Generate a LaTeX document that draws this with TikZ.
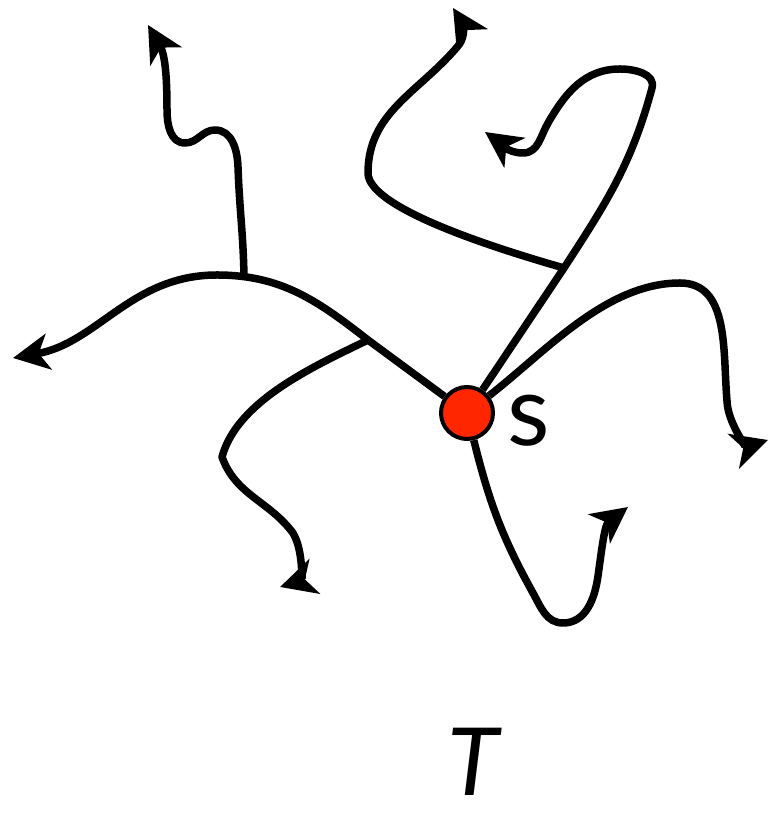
\documentclass[tikz,border=0pt]{standalone}
\usepackage{fontspec}
\setmainfont{Lato}
\usetikzlibrary{arrows.meta}
\usetikzlibrary{positioning}
\definecolor{dotred}{RGB}{255,38,0}

\begin{document}
\begin{tikzpicture}[x=1pt,y=1pt,
  branch/.style={line width=7.5pt,line join=round},
  tip/.style={-{Stealth[length=36pt,width=36pt,inset=10pt]}},
  dot/.style={circle,draw,line width=4pt,fill=dotred,minimum size=52pt,inner sep=0pt}]
  \useasboundingbox (0,0) rectangle (769,816);
  \node (s) [dot] at (467,403) {};
  \node (slabel) [right=12pt of s,yshift=-8pt,inner sep=0pt,font=\fontsize{98}{98}\selectfont] {s};
  \node (T) [anchor=base,inner sep=0pt,font=\fontsize{94}{94}\selectfont\itshape] at (473,20) {T};
  % junctions
  \coordinate (j1) at (368,476);
  \coordinate (j2) at (244,539);
  \coordinate (j3) at (564,548);
  % bends
  \coordinate (peak) at (217,541);
  \coordinate (b1) at (238,649);
  \coordinate (b2) at (215,686);
  \coordinate (b3) at (185,673);
  \coordinate (b4) at (167,706);
  \coordinate (c1) at (222,359);
  \coordinate (c2) at (293,283);
  \coordinate (d1) at (652,728);
  \coordinate (d2) at (620,747);
  \coordinate (d3) at (548,693);
  \coordinate (d4) at (523,663);
  \coordinate (e1) at (368,643);
  \coordinate (e2) at (458,770);
  \coordinate (f1) at (680,533);
  \coordinate (f2) at (727,415);
  \coordinate (g0) at (533,223);
  \coordinate (g1) at (563,193);
  \coordinate (g2) at (598,240);
  % free ends
  \coordinate (endL) at (13,458);
  \coordinate (endB) at (148,791);
  \coordinate (endC) at (280,229);
  \coordinate (endD) at (485,684);
  \coordinate (endE) at (453,808);
  \coordinate (endF) at (768,376);
  \coordinate (endG) at (628,309);
  % paths
  \draw[branch,tip] (s) -- (j1) to[out=142,in=0] (peak) to[out=180,in=10] (endL);
  \draw[branch,tip] (j2) to[out=91,in=-88] (b1) to[out=92,in=0] (b2)
    to[out=180,in=0] (b3) to[out=180,in=-90] (b4) to[out=90,in=-60] (endB);
  \draw[branch,tip] (j1) to[out=-154,in=75,looseness=0.8] (c1)
    to[out=-70,in=127] (c2) to[out=-60,in=17] (endC);
  \draw[branch,tip] (s) -- (j3) to[out=57,in=-105] (d1) to[out=75,in=0] (d2)
    to[out=180,in=60] (d3) to[out=240,in=0] (d4) to[out=180,in=-35] (endD);
  \draw[branch,tip] (j3) .. controls (480,572) and (368,610) .. (e1)
    to[out=90,in=-130] (e2) to[out=50,in=-58] (endE);
  \draw[branch,tip] (s) to[out=38,in=180,looseness=0.85] (f1) to[out=0,in=95] (f2)
    to[out=-88,in=-162] (endF);
  \draw[branch,tip] (s) to[out=-76,in=119] (g0) to[out=-61,in=180] (g1)
    to[out=0,in=-98] (g2) to[out=82,in=-143] (endG);
\end{tikzpicture}
\end{document}
